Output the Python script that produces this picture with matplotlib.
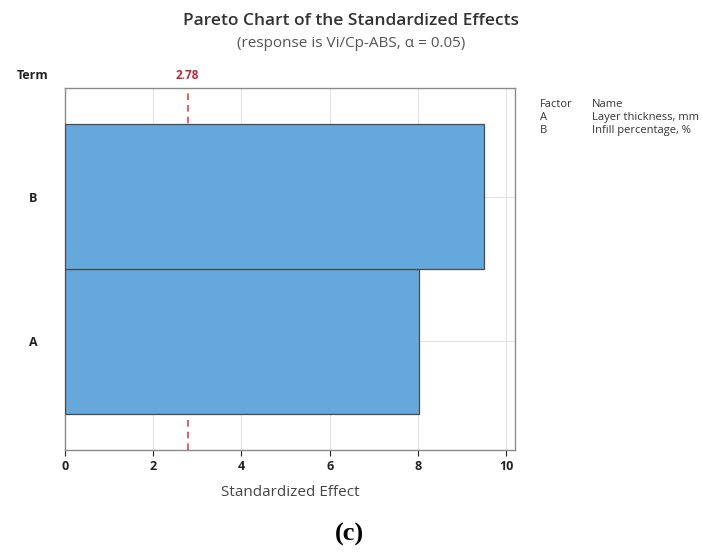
import matplotlib
matplotlib.use('Agg')
import matplotlib.pyplot as plt

plt.rcParams['font.family'] = ['Open Sans', 'DejaVu Sans']

terms = ['A', 'B']
effects = [8.03, 9.5]
factor_names = ['Layer thickness, mm', 'Infill percentage, %']
critical = 2.78
xticks = [0, 2, 4, 6, 8, 10]

fig = plt.figure(figsize=(7.02, 5.52), dpi=100)
ax = fig.add_axes([0.0926, 0.1848, 0.641, 0.6558])

ypos = list(range(len(terms)))
ax.barh(ypos, effects, height=1.0, color='#65a8dc', edgecolor='#4a4a4a',
        linewidth=0.9, zorder=3)
# reference line sits behind the bars
ax.axvline(critical, color='#e8414a', linestyle=(0, (4, 3)), linewidth=1.2, zorder=2)
ax.text(critical, 1.79, f'{critical:.2f}', color='#c0262d', fontsize=8.5,
        fontweight='bold', ha='center', va='bottom')

ax.set_xlim(0, 10.2)
ax.set_ylim(-0.75, 1.75)
ax.set_xticks(xticks)
ax.set_yticks(ypos)
ax.set_yticklabels(terms, fontsize=9, fontweight='bold', color='#222222')
ax.tick_params(axis='x', labelsize=9, colors='#222222', length=4, width=0.8)
ax.tick_params(axis='y', length=0, pad=20)
for lbl in ax.get_xticklabels():
    lbl.set_fontweight('bold')
ax.grid(True, color='#e4e4e4', linewidth=0.8, zorder=0)
for s in ax.spines.values():
    s.set_color('#8a8a8a')
    s.set_linewidth(1.0)

ax.set_xlabel('Standardized Effect', fontsize=11, color='#444444', labelpad=8)

fig.text(0.5, 0.962, 'Pareto Chart of the Standardized Effects', ha='center',
         va='center', fontsize=12.5, color='#333333', fontweight='semibold')
fig.text(0.5, 0.922, '(response is Vi/Cp-ABS, \u03b1 = 0.05)', ha='center',
         va='center', fontsize=11, color='#555555')
fig.text(0.024, 0.864, 'Term', ha='left', va='center', fontsize=9,
         fontweight='bold', color='#222222')

# factor key on the right
fig.text(0.769, 0.811, 'Factor', fontsize=8, color='#333333', va='center')
fig.text(0.843, 0.811, 'Name', fontsize=8, color='#333333', va='center')
for i, (t, name) in enumerate(zip(terms, factor_names)):
    y = 0.787 - i * 0.024
    fig.text(0.769, y, t, fontsize=8, color='#333333', va='center')
    fig.text(0.843, y, name, fontsize=8, color='#333333', va='center')

fig.text(0.498, 0.031, '(c)', ha='center', va='center', fontsize=19,
         fontweight='bold', family=['Liberation Serif', 'DejaVu Serif'])

fig.savefig('out.png', dpi=100)
